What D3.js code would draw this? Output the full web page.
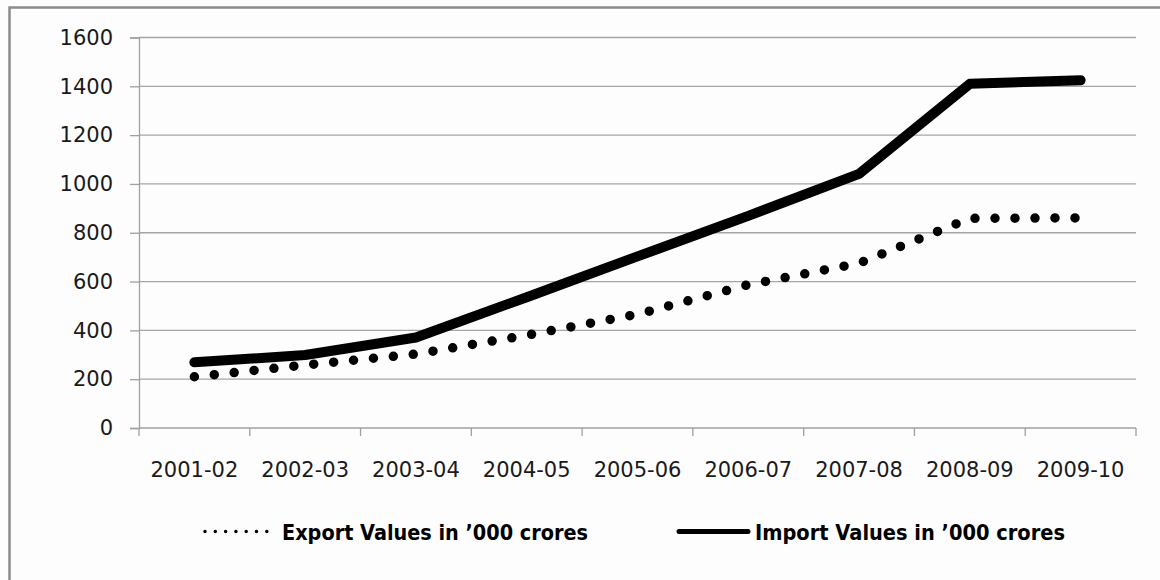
<!DOCTYPE html>
<html>
<head>
<meta charset="utf-8">
<script src="https://cdn.jsdelivr.net/npm/d3@7"></script>
<style>
  html, body { margin: 0; padding: 0; background: #fdfdfd; }
  svg { display: block; }
</style>
</head>
<body>
<svg id="chart" width="1160" height="580"></svg>
<script>
// Financial years on the category axis
const years = ["2001-02", "2002-03", "2003-04", "2004-05", "2005-06",
               "2006-07", "2007-08", "2008-09", "2009-10"];
// Values in '000 crores
const exportValues = [210, 258, 303, 380, 466, 587, 675, 859, 861];
const importValues = [269, 299, 371, 536, 703, 869, 1041, 1410, 1425];
const yTicks = [0, 200, 400, 600, 800, 1000, 1200, 1400, 1600];
const exportLabel = "Export Values in \u2019000 crores";
const importLabel = "Import Values in \u2019000 crores";

const svg = d3.select("#chart");
const font = "'DejaVu Sans', sans-serif";

// Outer frame (left and top edges visible)
svg.append("path")
  .attr("d", "M9.5,590 L9.5,7.5 L1170,7.5")
  .attr("fill", "none")
  .attr("stroke", "#8c8c8c")
  .attr("stroke-width", 2.5);

const x = d3.scaleBand().domain(years).range([139, 1136]);
const y = d3.scaleLinear().domain([0, 1600]).range([428, 37.5]);

// Horizontal gridlines
svg.append("g")
  .selectAll("line")
  .data(yTicks.filter(d => d > 0))
  .join("line")
  .attr("x1", 139).attr("x2", 1136)
  .attr("y1", d => y(d)).attr("y2", d => y(d))
  .attr("stroke", "#a6a6a6")
  .attr("stroke-width", 1.3);

// Y axis
const yAxis = svg.append("g")
  .attr("transform", "translate(139,0)")
  .call(d3.axisLeft(y).tickValues(yTicks).tickFormat(d3.format("d"))
    .tickSize(9).tickPadding(17));
yAxis.select(".domain").attr("stroke", "#a0a0a0").attr("stroke-width", 1.3);
yAxis.selectAll(".tick line").attr("stroke", "#a0a0a0").attr("stroke-width", 1.3);
yAxis.selectAll("text")
  .attr("font-family", font).attr("font-size", 21).attr("fill", "#1a1a1a");

// X axis with ticks on the band boundaries
const xAxis = svg.append("g")
  .attr("transform", "translate(0,428)");
xAxis.append("line")
  .attr("x1", 139).attr("x2", 1136)
  .attr("stroke", "#a0a0a0").attr("stroke-width", 1.3);
const bounds = years.map(d => x(d)).concat([x.range()[1]]);
xAxis.selectAll(".bt")
  .data(bounds)
  .join("line")
  .attr("class", "bt")
  .attr("x1", d => d).attr("x2", d => d)
  .attr("y1", 0).attr("y2", 8)
  .attr("stroke", "#a0a0a0").attr("stroke-width", 1.3);
xAxis.selectAll("text")
  .data(years)
  .join("text")
  .attr("x", d => x(d) + x.bandwidth() / 2)
  .attr("y", 48.5)
  .attr("text-anchor", "middle")
  .attr("font-family", font).attr("font-size", 21).attr("fill", "#1a1a1a")
  .text(d => d);

const cx = (d, i) => x(years[i]) + x.bandwidth() / 2;
const seriesLine = d3.line().x((d, i) => cx(d, i)).y(d => y(d));

// Export series: round dots
svg.append("path")
  .datum(exportValues)
  .attr("d", seriesLine)
  .attr("fill", "none")
  .attr("stroke", "#000")
  .attr("stroke-width", 9.5)
  .attr("stroke-linecap", "round")
  .attr("stroke-dasharray", "0,20");

// Import series: thick solid line
svg.append("path")
  .datum(importValues)
  .attr("d", seriesLine)
  .attr("fill", "none")
  .attr("stroke", "#000")
  .attr("stroke-width", 10)
  .attr("stroke-linecap", "round")
  .attr("stroke-linejoin", "round");

// Legend
const legend = svg.append("g");
legend.append("line")
  .attr("x1", 205).attr("x2", 268)
  .attr("y1", 531.5).attr("y2", 531.5)
  .attr("stroke", "#000")
  .attr("stroke-width", 3.5)
  .attr("stroke-linecap", "round")
  .attr("stroke-dasharray", "0,10.3");
legend.append("text")
  .attr("x", 282).attr("y", 540)
  .attr("font-family", font).attr("font-size", 21.5).attr("font-weight", "bold")
  .attr("fill", "#000")
  .attr("textLength", 306).attr("lengthAdjust", "spacingAndGlyphs")
  .text(exportLabel);
legend.append("line")
  .attr("x1", 679).attr("x2", 748)
  .attr("y1", 531.5).attr("y2", 531.5)
  .attr("stroke", "#000")
  .attr("stroke-width", 5)
  .attr("stroke-linecap", "round");
legend.append("text")
  .attr("x", 755).attr("y", 540)
  .attr("font-family", font).attr("font-size", 21.5).attr("font-weight", "bold")
  .attr("fill", "#000")
  .attr("textLength", 310).attr("lengthAdjust", "spacingAndGlyphs")
  .text(importLabel);
</script>
</body>
</html>
